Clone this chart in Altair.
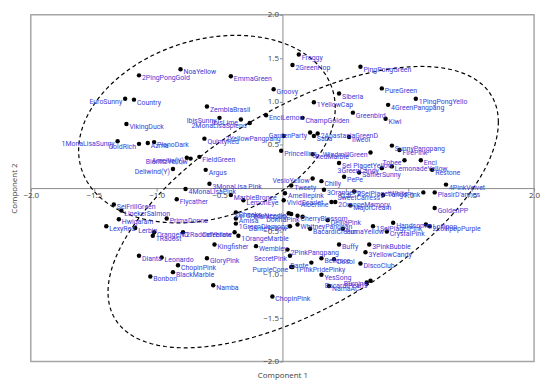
import numpy as np
import pandas as pd
import altair as alt

# ---- data ----
names = [
    "Froggy", "2GreenHop", "2PingPongGold", "NoaYellow", "EmmaGreen", "Groovy",
    "PingPongGreen", "PureGreen", "1PingPongYello", "4GreenPangpang", "Siberia",
    "1YellowCap", "Greenbird", "Kiwi", "ChampGolden", "EuroSunny", "Country",
    "VikingDuck", "ZemblaBrasil", "IbisSunny", "IbisLime", "2MonaLisaSplend",
    "EnciLemon", "1MonaLisaSunny", "GoldRich", "Azma", "PlanoDark", "QuintyRed",
    "2YellowPangpang", "GardenParty", "Saba", "2AnastasiaGreenD", "Iiweol",
    "Amellie(Y)", "BiarittzYellow", "FieldGreen", "Deliwind(Y)", "Argus",
    "Princeiling", "RedMarble", "WindmillGreen", "Sei PiagetYellow", "3GreenCandy",
    "SunnyPangpang", "FirePink", "Tobee", "Enci", "Restone", "LemonadeYellow",
    "SaffierSunny", "PePe", "Chilly", "VesioYellow", "Tweety", "3MonaLisa Pink",
    "4MonaLisaPink", "4PinkVelvet", "SweetCarress", "2SeiPiagetWhite", "TangoPink",
    "PlasirD'armes", "3OrangePp", "Amelliepink", "VividScarlet", "Albertine",
    "2OrangeMemory", "MajorCream", "GoldenPP", "Flycather", "MarbleBronze",
    "LemonEye", "SeiFrillGreen", "LinekerSalmon", "Hwigaram", "LexyRed", "Lerbin",
    "PrimaDonna", "OrangeND", "1Radost", "2RadostYellow", "Cheeks", "Amisa",
    "1GreenDiamond", "Celebrate", "1OrangeMarble", "Sei GreenNeedle", "Biarittzpink",
    "CherryBlossom", "DonnaPink", "DanteYellow", "WhitneyPangpan", "BacardiCream",
    "DelliaPink", "PumaYellow", "Handsome", "1SeiPiagetPink", "CrystalPink",
    "1Lollipop", "2LollipopPurple", "Buffy", "3PinkBubble", "3YellowCandy",
    "DiscoClub", "Kingfisher", "Wembley", "2PinkPangpang", "SecretPink",
    "PurpleCone", "1PinkPridePinky", "Dante", "Bellesce", "Dosol", "YesSong",
    "NamaAC", "Burning", "BacardiPearl", "GloryPink", "ChopinPink", "BlackMarble",
    "Namba", "Dianta", "Leonardo", "Bonbon", "ChopinPink",
]
comp1 = [
    0.13, 0.08, -1.14, -0.81, -0.41, -0.07,
    0.62, 0.79, 1.06, 0.84, 0.45,
    0.25, 0.56, 0.82, 0.16, -1.25, -1.18,
    -1.24, -0.60, -0.50, -0.33, -0.26,
    -0.13, -1.31, -1.14, -1.07, -1.02, -0.62,
    0.01, 0.22, 0.25, 0.28, 0.53,
    -0.76, -0.73, -0.66, -0.87, -0.61,
    -0.01, 0.24, 0.70, 0.45, 0.79,
    0.87, 0.93, 0.97, 1.10, 1.19, 0.87,
    0.61, 0.49, 0.31, 0.24, 0.07, -0.58,
    -0.77, 1.30, 0.80, 0.57, 1.12,
    1.21, 0.33, 0.02, 0.01, 0.39,
    0.42, 0.54, 1.21, -0.84, -0.41,
    -0.31, -1.34, -1.28, -1.30, -1.40, -1.17,
    -0.92, -1.02, -1.03, -0.79, -0.37, -0.37,
    -0.37, -0.38, -0.35, 0.05, 0.07,
    0.12, 0.16, 0.06, 0.12, 0.22,
    0.36, 0.48, 0.88, 0.72, 0.83,
    1.14, 1.17, 0.45, 0.69, 0.66,
    0.62, -0.54, -0.21, 0.04, 0.06,
    0.07, 0.08, 0.23, 0.31, 0.41, 0.31,
    0.37, 0.70, 0.67, -0.60, -0.83, -0.87,
    -0.55, -1.14, -0.96, -1.05, -0.08,
]
comp2 = [
    1.54, 1.42, 1.30, 1.37, 1.29, 1.14,
    1.40, 1.15, 1.03, 0.96, 1.09,
    0.99, 0.87, 0.80, 0.81, 1.03, 1.02,
    0.74, 0.94, 0.81, 0.79, 0.75,
    0.84, 0.54, 0.51, 0.52, 0.53, 0.57,
    0.60, 0.64, 0.60, 0.63, 0.59,
    0.35, 0.34, 0.36, 0.22, 0.21,
    0.43, 0.39, 0.41, 0.29, 0.23,
    0.49, 0.44, 0.32, 0.32, 0.21, 0.25,
    0.18, 0.13, 0.08, 0.11, 0.03, 0.05,
    -0.01, 0.04, -0.08, -0.04, -0.05,
    -0.05, -0.02, -0.06, -0.14, -0.16,
    -0.16, -0.20, -0.23, -0.13, -0.08,
    -0.14, -0.19, -0.26, -0.36, -0.44, -0.46,
    -0.35, -0.51, -0.55, -0.51, -0.28, -0.35,
    -0.41, -0.51, -0.55, -0.29, -0.30,
    -0.32, -0.33, -0.44, -0.42, -0.47,
    -0.37, -0.47, -0.40, -0.44, -0.50,
    -0.42, -0.44, -0.65, -0.65, -0.74,
    -0.87, -0.65, -0.67, -0.71, -0.78,
    -0.91, -0.91, -0.86, -0.81, -0.82, -1.00,
    -1.13, -1.07, -1.09, -0.81, -0.89, -0.97,
    -1.12, -0.78, -0.80, -1.02, -1.25,
]
# labels drawn on the left side of their point
left_labels = {
    "EuroSunny", "1MonaLisaSunny", "GoldRich", "Amellie(Y)", "BiarittzYellow",
    "Deliwind(Y)", "IbisSunny", "IbisLime", "2MonaLisaSplend", "2YellowPangpang",
    "GardenParty", "WindmillGreen", "3GreenCandy", "Tobee", "VesioYellow",
    "SecretPink", "PurpleCone", "Celebrate", "BacardiPearl", "Burning",
    "Sei GreenNeedle", "Biarittzpink", "Albertine", "SweetCarress", "TangoPink",
    "DanteYellow", "Dante", "DonnaPink",
}

# confidence ellipses: centre, variances and covariance (component units)
ell_id = ["A", "B"]
ell_cx = [-0.60, 0.165]
ell_cy = [0.68, -0.22]
ell_vx = [1.04, 2.406]
ell_vy = [1.17, 2.634]
ell_cov = [0.25, 1.52]

tick_vals = [-2.0, -1.5, -1.0, -0.5, 0.0, 0.5, 1.0, 1.5, 2.0]

# ---- build tables ----
df = pd.DataFrame({"name": names, "c1": comp1, "c2": comp2})
df["side"] = np.where(df["name"].isin(left_labels), "left", "right")

rows = []
t = np.linspace(0, 2 * np.pi, 241)
for k, cx, cy, vx, vy, cv in zip(ell_id, ell_cx, ell_cy, ell_vx, ell_vy, ell_cov):
    l11 = np.sqrt(vx)
    l21 = cv / l11
    l22 = np.sqrt(vy - l21 ** 2)
    ex = cx + l11 * np.cos(t)
    ey = cy + l21 * np.cos(t) + l22 * np.sin(t)
    for i, (a, b) in enumerate(zip(ex, ey)):
        rows.append({"ell": k, "i": i, "ex": a, "ey": b})
edf = pd.DataFrame(rows)

W, H = 508, 350
scale = alt.Scale(domain=[-2, 2], nice=False, zero=False)
lab_expr = "datum.value == 0 ? '' : format(datum.value, '.1f')"
common = dict(values=tick_vals, labelExpr=lab_expr, title=None, grid=False,
              domainColor="#8c8c8c", tickColor="#8c8c8c", tickSize=3,
              labelFontSize=8, labelColor="#404040", labelFlush=False,
              labelOverlap=False, labelFont="Open Sans", labelPadding=1)
x_mid = alt.X("c1:Q", scale=scale, axis=alt.Axis(orient="bottom", offset=-H / 2, **common))
y_mid = alt.Y("c2:Q", scale=scale, axis=alt.Axis(orient="left", offset=-W / 2, **common))

base = alt.Chart(df)
pts = base.mark_circle(size=20, color="black", opacity=1).encode(x=x_mid, y=y_mid)
txt_r = base.transform_filter(alt.datum.side == "right").mark_text(
    align="left", baseline="middle", dx=3, dy=3, font="Roboto", fontSize=7, color="#3c3cd6"
).encode(x=x_mid, y=y_mid, text="name:N")
txt_l = base.transform_filter(alt.datum.side == "left").mark_text(
    align="right", baseline="middle", dx=-3, dy=3, font="Roboto", fontSize=7, color="#3c3cd6"
).encode(x=x_mid, y=y_mid, text="name:N")
inner = alt.layer(pts, txt_r, txt_l)

ell = alt.Chart(edf).mark_line(color="black", strokeDash=[4, 3], strokeWidth=1.2).encode(
    x=alt.X("ex:Q", scale=scale, axis=alt.Axis(orient="bottom", title="Component 1", labels=False,
            ticks=False, domain=False, grid=False, titleFontSize=8, titleColor="#404040",
            titleFontWeight="normal", titleFont="Open Sans", titlePadding=10)),
    y=alt.Y("ey:Q", scale=scale, axis=alt.Axis(orient="left", title="Component 2", labels=False,
            ticks=False, domain=False, grid=False, titleFontSize=8, titleColor="#404040",
            titleFontWeight="normal", titleFont="Open Sans", titlePadding=12)),
    detail="ell:N",
    order="i:Q",
)

chart = alt.layer(ell, inner).resolve_axis(x="independent", y="independent").properties(
    width=W, height=H,
    autosize=alt.AutoSizeParams(type="none"),
    padding={"left": 23, "top": 5, "right": 8, "bottom": 20},
).configure_view(stroke="#a6a6a6", strokeWidth=1.5)

chart.save("out.html", embed_options={"renderer": "svg", "actions": False})
